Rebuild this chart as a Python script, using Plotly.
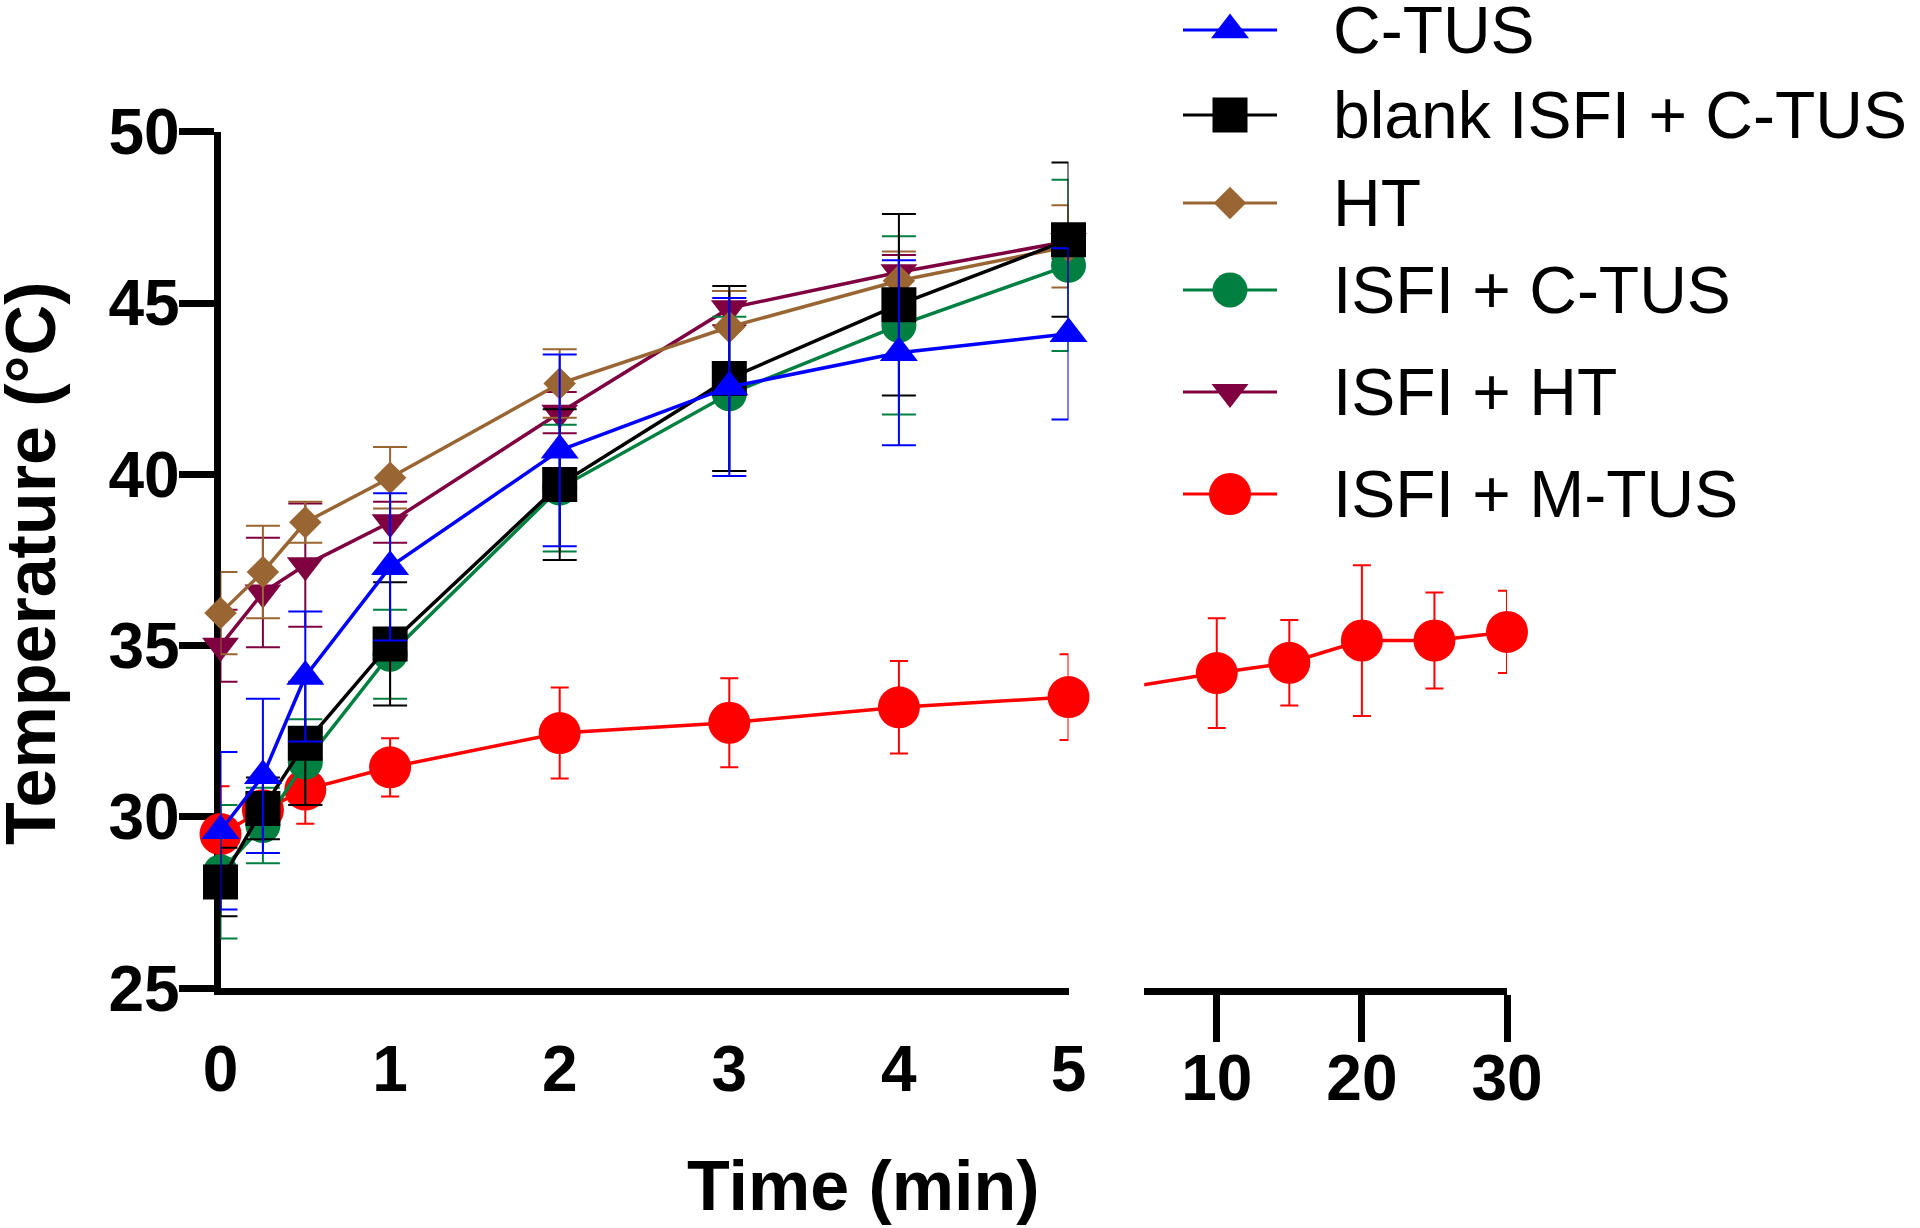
import plotly.graph_objects as go

W, H = 1920, 1228

# ---------------- data ----------------
time_early = [0, 0.25, 0.5, 1, 2, 3, 4, 5]
time_late = [10, 15, 20, 25, 30]
x_ticks_early = [0, 1, 2, 3, 4, 5]
x_ticks_late = [10, 20, 30]
y_ticks = [25, 30, 35, 40, 45, 50]

series_names = ["C-TUS", "blank ISFI + C-TUS", "HT", "ISFI + C-TUS", "ISFI + HT", "ISFI + M-TUS"]

c_tus_mean = [29.6, 31.2, 34.1, 37.3, 40.7, 42.55, 43.55, 44.1]
c_tus_sd = [2.3, 2.25, 1.9, 2.15, 2.8, 2.6, 2.7, 2.5]
blank_mean = [28.1, 30.25, 32.15, 35.05, 39.7, 42.8, 44.95, 46.85]
blank_sd = [1.0, 0.9, 1.8, 1.8, 2.2, 2.7, 2.65, 2.25]
ht_mean = [35.95, 37.15, 38.6, 39.9, 42.65, 44.3, 45.65, 46.65]
ht_sd = [1.2, 1.35, 0.6, 0.9, 1.0, 1.05, 0.85, 1.2]
isfi_ctus_mean = [28.4, 29.75, 31.6, 34.75, 39.6, 42.35, 44.35, 46.1]
isfi_ctus_sd = [1.95, 1.1, 1.25, 1.3, 1.85, 2.25, 2.6, 2.5]
isfi_ht_mean = [35.0, 36.55, 37.35, 38.6, 41.8, 44.85, 45.9, 46.8]
isfi_ht_sd = [1.05, 1.6, 1.8, 0.6, 0.6, 0.5, 0.5, 0.5]
mtus_early_mean = [29.5, 30.2, 30.8, 31.45, 32.45, 32.75, 33.2, 33.5]
mtus_early_sd = [1.4, 0.8, 1.0, 0.85, 1.33, 1.3, 1.35, 1.25]
mtus_late_mean = [34.2, 34.5, 35.15, 35.15, 35.4]
mtus_late_sd = [1.6, 1.25, 2.2, 1.4, 1.2]

# ---------------- styles ----------------
colors = {
    "C-TUS": "#0000FF",
    "blank ISFI + C-TUS": "#000000",
    "HT": "#996633",
    "ISFI + C-TUS": "#008040",
    "ISFI + HT": "#7F0040",
    "ISFI + M-TUS": "#FF0000",
}
symbols = {
    "C-TUS": ("triangle-up", 33),
    "blank ISFI + C-TUS": ("square", 35),
    "HT": ("diamond", 25),
    "ISFI + C-TUS": ("circle", 35),
    "ISFI + HT": ("triangle-down", 32),
    "ISFI + M-TUS": ("circle", 42),
}
cap_w = {"ISFI + M-TUS": 9}
FONT = "Liberation Sans, Arial, sans-serif"

# layout geometry (pixels)
px_left0, px_left1 = 220.5, 1068.5
px_right0, px_right1 = 1144.2, 1507.0
px_ytop, px_ybot = 131.7, 988.3
x_range_early = [0, 5]
x_range_late = [5, 30]
y_range = [25, 50]

# legend geometry (pixels)
leg_line_px0, leg_line_px1 = 1183.0, 1277.0
leg_text_px = 1331.0
leg_first_row_px = 30.0
leg_row_gaps_px = [85, 88, 87, 102, 102]

def fx(p):
    return p / W

def fy(p):
    return 1 - p / H

series_early = {
    "C-TUS": (c_tus_mean, c_tus_sd),
    "blank ISFI + C-TUS": (blank_mean, blank_sd),
    "HT": (ht_mean, ht_sd),
    "ISFI + C-TUS": (isfi_ctus_mean, isfi_ctus_sd),
    "ISFI + HT": (isfi_ht_mean, isfi_ht_sd),
    "ISFI + M-TUS": (mtus_early_mean, mtus_early_sd),
}

fig = go.Figure()

draw_order = list(reversed(series_names))  # first series drawn on top

for name in draw_order:
    mean, sd = series_early[name]
    sym, size = symbols[name]
    fig.add_trace(go.Scatter(
        x=time_early, y=mean, mode="lines+markers", name=name, showlegend=False,
        line=dict(color=colors[name], width=3.5),
        marker=dict(symbol=sym, size=size, color=colors[name], line=dict(width=0)),
        error_y=dict(type="data", array=sd, visible=True, color=colors[name],
                     thickness=2, width=cap_w.get(name, 17)),
        cliponaxis=False, xaxis="x", yaxis="y",
    ))

# right segment of ISFI + M-TUS: line bridging the axis break (clipped by the subplot)
name = "ISFI + M-TUS"
sym, size = symbols[name]
units_per_px_late = (x_range_late[1] - x_range_late[0]) / (px_right1 - px_right0)
x_bridge = x_range_late[0] - (px_right0 - px_left1) * units_per_px_late
fig.add_trace(go.Scatter(
    x=[x_bridge] + time_late, y=[mtus_early_mean[-1]] + mtus_late_mean,
    mode="lines", line=dict(color=colors[name], width=3.5), showlegend=False,
    hoverinfo="skip", xaxis="x2", yaxis="y",
))
fig.add_trace(go.Scatter(
    x=time_late, y=mtus_late_mean, mode="markers", showlegend=False, name=name,
    marker=dict(symbol=sym, size=size, color=colors[name]),
    error_y=dict(type="data", array=mtus_late_sd, visible=True, color=colors[name],
                 thickness=2, width=cap_w.get(name, 17)),
    cliponaxis=False, xaxis="x2", yaxis="y",
))

# custom legend built from series names (sample line spans 0..1 on its own axis)
leg_units_per_px = 1.0 / (leg_line_px1 - leg_line_px0)
leg_rows = [leg_first_row_px]
for g in leg_row_gaps_px:
    leg_rows.append(leg_rows[-1] + g)
for i, name in enumerate(series_names):
    sym, size = symbols[name]
    fig.add_trace(go.Scatter(
        x=[0, 1], y=[leg_rows[i]] * 2, mode="lines", line=dict(color=colors[name], width=3),
        showlegend=False, hoverinfo="skip", xaxis="x9", yaxis="y9", cliponaxis=False,
    ))
    fig.add_trace(go.Scatter(
        x=[0.5], y=[leg_rows[i]], mode="markers",
        marker=dict(symbol=sym, size=size, color=colors[name]),
        showlegend=False, hoverinfo="skip", xaxis="x9", yaxis="y9", cliponaxis=False,
    ))

tickfont = dict(family=FONT, size=64, color="black", weight="bold")
common_axis = dict(showgrid=False, zeroline=False, color="black", layer="below traces",
                   tickcolor="black", tickwidth=7, fixedrange=True)

def tick_overlay(base, rng, vals, direction, length):
    return dict(overlaying=base, anchor="y", side="bottom", range=rng, tickmode="array",
                tickvals=vals, ticks=direction, ticklen=length, showticklabels=False,
                showline=False, **common_axis)

legend_bottom_px = leg_rows[-1] + 60

layout = dict(
    width=W, height=H, paper_bgcolor="white", plot_bgcolor="rgba(0,0,0,0)",
    margin=dict(l=0, r=0, t=0, b=0, autoexpand=False), showlegend=False,
    xaxis=dict(domain=[fx(px_left0), fx(px_left1)], range=x_range_early, anchor="y",
               tickmode="array", tickvals=x_ticks_early, ticktext=[str(v) for v in x_ticks_early],
               ticks="", ticklabelstandoff=19, showline=True, linewidth=7, linecolor="black",
               tickfont=tickfont, **common_axis),
    xaxis3=tick_overlay("x", x_range_early, x_ticks_early[:-1], "outside", 37),
    xaxis4=tick_overlay("x", x_range_early, [x_range_early[1]], "outside", 25),
    xaxis5=tick_overlay("x", x_range_early, [x_range_early[1]], "inside", 25),
    xaxis2=dict(domain=[fx(px_right0), fx(px_right1)], range=x_range_late, anchor="y",
                tickmode="array", tickvals=x_ticks_late, ticktext=[str(v) for v in x_ticks_late],
                ticks="outside", ticklen=47, ticklabelstandoff=-19, showline=True, linewidth=7,
                linecolor="black", tickfont=tickfont, **common_axis),
    xaxis6=tick_overlay("x2", x_range_late, [x_range_late[0]], "outside", 25),
    xaxis7=tick_overlay("x2", x_range_late, [x_range_late[0]], "inside", 25),
    yaxis=dict(domain=[fy(px_ybot), fy(px_ytop)], range=y_range, anchor="x",
               tickmode="array", tickvals=y_ticks, ticks="outside", ticklen=35,
               ticklabelstandoff=-14,
               showline=True, linewidth=7, linecolor="black", tickfont=tickfont, **common_axis),
    xaxis9=dict(domain=[fx(leg_line_px0), 1.0],
                range=[0, (W - leg_line_px0) * leg_units_per_px], visible=False, anchor="y9",
                fixedrange=True),
    yaxis9=dict(domain=[fy(legend_bottom_px), 1], range=[legend_bottom_px, 0], visible=False,
                anchor="x9", fixedrange=True),
)
fig.update_layout(**layout)

annotations = []
text_x = (leg_text_px - leg_line_px0) * leg_units_per_px
for i, name in enumerate(series_names):
    annotations.append(dict(
        x=text_x, y=leg_rows[i], xref="x9", yref="y9", text=name, showarrow=False,
        xanchor="left", yanchor="middle",
        font=dict(family=FONT, size=66, color="black"),
    ))
annotations.append(dict(
    x=fx((px_left0 + px_right1) / 2), y=fy(1186), xref="paper", yref="paper",
    text="Time (min)", showarrow=False, xanchor="center", yanchor="middle",
    font=dict(family=FONT, size=70, color="black", weight="bold"),
))
annotations.append(dict(
    x=fx(-9), y=fy((px_ytop + px_ybot) / 2 + 4), xref="paper", yref="paper",
    text="Temperature (°C)", showarrow=False, xanchor="left", yanchor="middle",
    textangle=-90, borderpad=0, font=dict(family=FONT, size=70, color="black", weight="bold"),
))
fig.update_layout(annotations=annotations)

fig.write_html("out.html", config={"displayModeBar": False},
               post_script="document.body.style.margin='0px';")
